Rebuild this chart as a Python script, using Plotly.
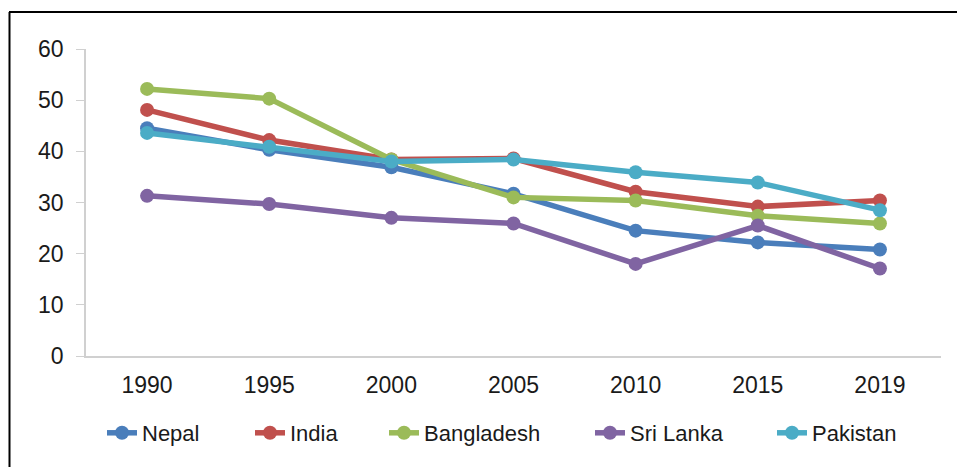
import plotly.graph_objects as go

years = ["1990", "1995", "2000", "2005", "2010", "2015", "2019"]
nepal = [44.5, 40.3, 36.9, 31.7, 24.5, 22.2, 20.8]
india = [48.1, 42.2, 38.4, 38.6, 32.1, 29.2, 30.4]
bangladesh = [52.2, 50.3, 38.4, 31.0, 30.4, 27.4, 25.9]
sri_lanka = [31.3, 29.7, 27.0, 25.9, 18.0, 25.5, 17.1]
pakistan = [43.6, 40.9, 38.0, 38.4, 35.9, 33.9, 28.5]

series = [
    ("Nepal", nepal, "#4A7EBB"),
    ("India", india, "#C0504D"),
    ("Bangladesh", bangladesh, "#9BBB59"),
    ("Sri Lanka", sri_lanka, "#8064A2"),
    ("Pakistan", pakistan, "#4BACC6"),
]
# pixel where each legend label's text begins
legend_text_x = [142, 290, 424, 630, 812]

W, H = 957, 467
L, R, T, B = 86, 16, 49, 111
pw, ph = W - L - R, H - T - B

def px(p):
    return (p - L) / pw

def py(q):
    return (H - B - q) / ph

fig = go.Figure()
layout_legends = {}
for i, (name, vals, col) in enumerate(series):
    lg = "legend" if i == 0 else f"legend{i + 1}"
    fig.add_trace(go.Scatter(
        x=years, y=vals, name=name, mode="lines+markers",
        line=dict(color=col, width=5.5),
        marker=dict(color=col, size=14),
        legend=lg,
    ))
    layout_legends[lg] = dict(x=px(legend_text_x[i] - 40), xanchor="left", y=py(433),
                              yanchor="middle", font=dict(size=22), bgcolor="rgba(0,0,0,0)")

fig.update_layout(
    width=W, height=H,
    margin=dict(l=L, r=R, t=T, b=B),
    paper_bgcolor="white", plot_bgcolor="white",
    font=dict(family="Liberation Sans, Arial, sans-serif", size=23, color="#1a1a1a"),
    showlegend=True,
    xaxis=dict(type="category", range=[-0.5, 6.5], showgrid=False, showline=True,
               linecolor="#D0D0D0", linewidth=1.5, ticks="", ticklabelstandoff=8,
               zeroline=False),
    yaxis=dict(range=[0, 60], dtick=10, showgrid=False, showline=True, linecolor="#D0D0D0",
               linewidth=1.5, ticks="outside", ticklen=8, tickcolor="#D0D0D0",
               ticklabelstandoff=8, zeroline=False),
    shapes=[
        dict(type="line", xref="paper", yref="paper", x0=px(9), x1=px(958), y0=py(12), y1=py(12),
             line=dict(color="black", width=2)),
        dict(type="line", xref="paper", yref="paper", x0=px(9.5), x1=px(9.5), y0=py(12), y1=py(468),
             line=dict(color="black", width=2)),
    ],
    **layout_legends,
)

fig.write_html("out.html", config={"displayModeBar": False},
               post_script="document.body.style.margin='0';")
